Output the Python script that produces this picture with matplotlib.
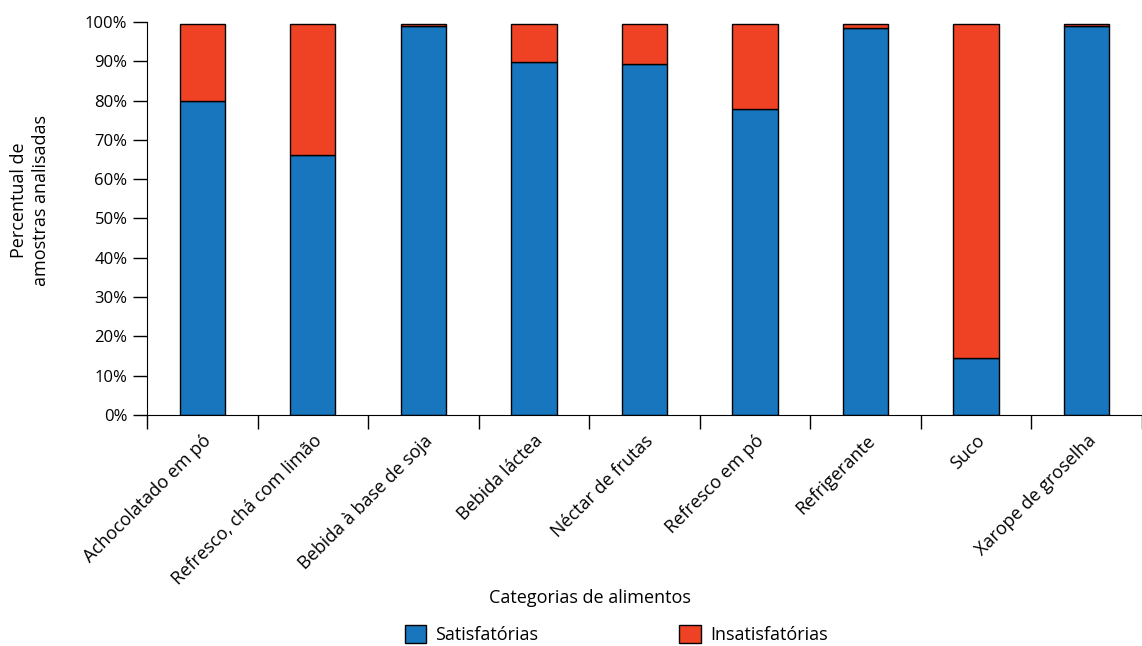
import numpy as np
import matplotlib.pyplot as plt

# categorias e percentuais (%)
categorias = ["Achocolatado em pó", "Refresco, chá com limão", "Bebida à base de soja",
              "Bebida láctea", "Néctar de frutas", "Refresco em pó", "Refrigerante",
              "Suco", "Xarope de groselha"]
satisfatorias = [80.0, 66.1, 98.9, 89.9, 89.4, 77.8, 98.5, 14.4, 98.9]
insatisfatorias = [19.6, 33.5, 0.7, 9.7, 10.2, 21.8, 1.1, 85.2, 0.6]

azul = "#1776be"
vermelho = "#ef4224"

plt.rcParams['font.family'] = ['Open Sans', 'DejaVu Sans']
plt.rcParams['font.size'] = 13

fig = plt.figure(figsize=(11.42, 6.46), dpi=100)
ax = fig.add_axes([0.1287, 0.3576, 0.8713, 0.6084])

x = np.arange(len(categorias))
larg = 0.41
ax.bar(x, satisfatorias, width=larg, color=azul, edgecolor="black", linewidth=1,
       label="Satisfatórias")
ax.bar(x, insatisfatorias, width=larg, bottom=satisfatorias, color=vermelho,
       edgecolor="black", linewidth=1, label="Insatisfatórias")

ax.set_xlim(-0.5, len(categorias) - 0.5)
ax.set_ylim(0, 100)
ax.set_yticks(np.arange(0, 101, 10))
ax.set_yticklabels([f"{v}%" for v in range(0, 101, 10)], fontsize=12)

# ticks do eixo x entre as categorias, rótulos no centro das barras
ax.set_xticks(np.arange(len(categorias) + 1) - 0.5)
ax.set_xticklabels([])
ax.set_xticks(x, minor=True)
ax.set_xticklabels(categorias, minor=True, rotation=45, ha="right",
                   rotation_mode="anchor", fontsize=13)
ax.tick_params(axis="x", which="minor", length=0, pad=12)
ax.tick_params(axis="x", which="major", length=10, width=1, direction="out")
ax.tick_params(axis="y", length=10, width=1, pad=4)

for s in ["top", "right"]:
    ax.spines[s].set_visible(False)

fig.text(0.026, 0.69, "Percentual de\namostras analisadas", rotation=90,
         ha="center", va="center", fontsize=13, linespacing=1.3)
fig.text(0.517, 0.075, "Categorias de alimentos", ha="center", va="center",
         fontsize=13)

fig.legend(loc="lower center", bbox_to_anchor=(0.5395, -0.022), ncol=2,
           frameon=False, handlelength=1.2, handleheight=1.2,
           columnspacing=7.8, handletextpad=0.5, fontsize=13)

fig.savefig("out.png", dpi=100)
